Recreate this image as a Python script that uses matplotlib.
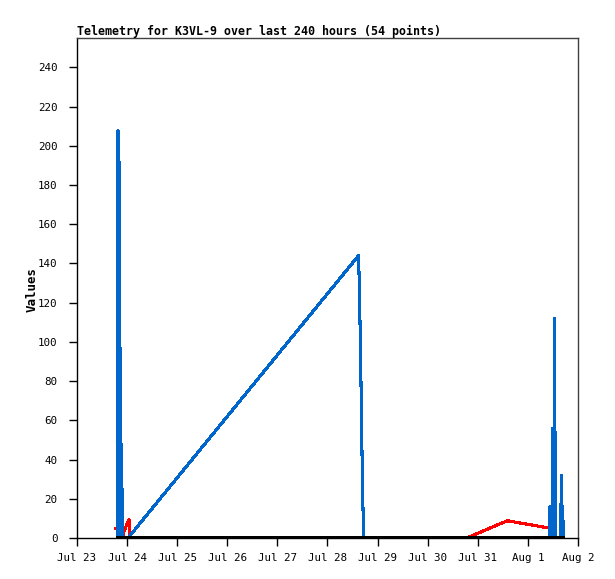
import matplotlib
matplotlib.use("Agg")
import matplotlib.pyplot as plt
import matplotlib.dates as mdates
import pandas as pd

# ---- data ----
blue_times = ["2023-07-23 19:27", "2023-07-23 19:38", "2023-07-23 19:53", "2023-07-23 20:07",
              "2023-07-23 20:27", "2023-07-23 20:45", "2023-07-23 20:59", "2023-07-23 21:13",
              "2023-07-23 21:28", "2023-07-23 21:42", "2023-07-23 21:56",
              "2023-07-24 00:26",
              "2023-07-28 14:51", "2023-07-28 15:14", "2023-07-28 15:43", "2023-07-28 16:09",
              "2023-07-28 16:32", "2023-07-28 17:00", "2023-07-28 17:29",
              "2023-08-01 10:21", "2023-08-01 10:33", "2023-08-01 10:45",
              "2023-08-01 11:45", "2023-08-01 12:00", "2023-08-01 12:20", "2023-08-01 12:45",
              "2023-08-01 13:10",
              "2023-08-01 15:46", "2023-08-01 15:58", "2023-08-01 16:20", "2023-08-01 16:40",
              "2023-08-01 16:58"]
blue_values = [0, 208, 0, 192, 0, 97, 0, 48, 0, 25, 0, 0,
               144, 130, 101, 72, 43, 15, 0,
               0, 16, 0,
               0, 56, 0, 112, 0,
               0, 32, 0, 16, 0]

red_times = ["2023-07-23 18:41", "2023-07-23 19:18", "2023-07-23 19:40", "2023-07-23 22:02",
             "2023-07-23 22:20", "2023-07-24 00:55", "2023-07-24 01:12", "2023-07-30 18:40",
             "2023-07-31 14:08", "2023-08-01 10:35", "2023-08-01 10:50"]
red_values = [5, 5, 0, 0, 3, 9.5, 0, 0, 8.8, 5, 0]

black_times = ["2023-07-23 18:49", "2023-08-01 17:24"]
black_values = [0, 0]

y_ticks = list(range(0, 241, 20))
x_start, x_end = "2023-07-23", "2023-08-02"
title = "Telemetry for K3VL-9 over last 240 hours (54 points)"
y_label = "Values"

# ---- plot ----
W, H = 615, 579
fig = plt.figure(figsize=(W / 100, H / 100), dpi=100)
ax = fig.add_axes([77 / W, (H - 538) / H, (578 - 77) / W, (538 - 38) / H])

mono = "DejaVu Sans Mono"
lw = 1.5
ax.plot(pd.to_datetime(red_times), red_values, color="#ff0000", lw=lw, antialiased=False, zorder=2)
ax.plot(pd.to_datetime(blue_times), blue_values, color="#0066cc", lw=lw, antialiased=False, zorder=3)
ax.plot(pd.to_datetime(black_times), black_values, color="black", lw=3.4, solid_capstyle="butt",
        antialiased=False, zorder=5, clip_on=True)

ax.set_xlim(pd.Timestamp(x_start), pd.Timestamp(x_end))
ax.set_ylim(0, 255)
ax.set_yticks(y_ticks)
ax.xaxis.set_major_locator(mdates.DayLocator())
ax.xaxis.set_major_formatter(plt.FuncFormatter(
    lambda v, p: f"{mdates.num2date(v):%b} {mdates.num2date(v).day}"))

ax.tick_params(axis="both", direction="out", length=6, width=1, labelsize=7.8, colors="black")
ax.tick_params(axis="y", pad=8)
ax.tick_params(axis="x", pad=5)
for lab in ax.get_xticklabels() + ax.get_yticklabels():
    lab.set_family(mono)

for side in ("top", "right"):
    ax.spines[side].set_color("#404040")
for side in ("left", "bottom"):
    ax.spines[side].set_color("black")
for sp in ax.spines.values():
    sp.set_linewidth(1)

fig.text(77 / W, 1 - 31 / H, title, family=mono, fontweight="bold", fontsize=8.4,
         ha="left", va="center")
fig.text(32 / W, 1 - 289 / H, y_label, family=mono, fontweight="bold", fontsize=9,
         rotation=90, ha="center", va="center")

fig.savefig("out.png", dpi=100)
